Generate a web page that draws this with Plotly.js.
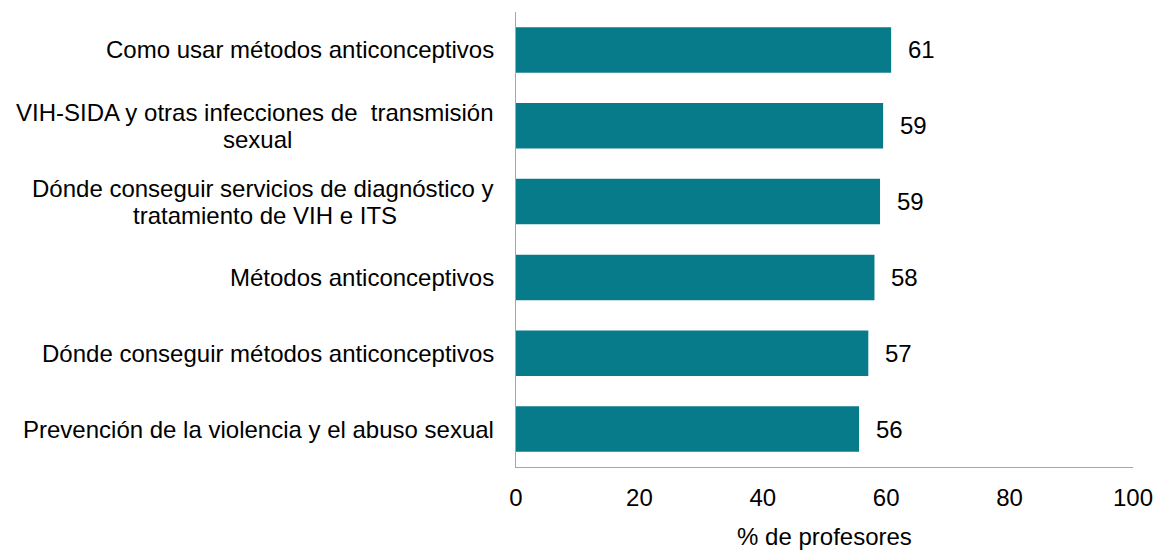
<!DOCTYPE html>
<html>
<head>
<meta charset="utf-8">
<script src="https://cdn.plot.ly/plotly-3.0.1.min.js"></script>
<style>html,body{margin:0;padding:0;background:#fff;}#chart{width:1156px;height:550px;}</style>
</head>
<body>
<div id="chart"></div>
<script>
// Categories, bottom to top
const categories = [
  "Prevención de la violencia y el abuso sexual",
  "Dónde conseguir métodos anticonceptivos",
  "Métodos anticonceptivos",
  "Dónde conseguir servicios de diagnóstico y<br>tratamiento de VIH e ITS",
  "VIH-SIDA y otras infecciones de  transmisión<br>sexual",
  "Como usar métodos anticonceptivos"
];
const values = [55.6, 57.1, 58.1, 59.0, 59.5, 60.8];
const valueLabels = ["56", "57", "58", "59", "59", "61"];
const xTickVals = [0, 20, 40, 60, 80, 100];
const xTitle = "% de profesores";

const FONT = "Liberation Sans, Arial, sans-serif";
const FS = 24;
const ids = categories.map((c, i) => "c" + i);

const trace = {
  type: "bar",
  orientation: "h",
  x: values,
  y: ids,
  marker: {color: "#087B8A"},
  width: 0.6,
  hoverinfo: "skip"
};

const annotations = [];
const LINE = 27;
ids.forEach((id, i) => {
  annotations.push({
    x: values[i], y: id, xref: "x", yref: "y",
    text: valueLabels[i], showarrow: false,
    xanchor: "left", xshift: 15,
    font: {family: FONT, size: FS, color: "#000"}
  });
  const lines = categories[i].split("<br>");
  lines.forEach((ln, k) => {
    annotations.push({
      x: 0, y: id, xref: "paper", yref: "y",
      text: ln.replace(/  /g, " \u00A0"), showarrow: false,
      xanchor: lines.length > 1 && k > 0 ? "center" : "right",
      xshift: lines.length > 1 && k > 0 ? 0 : -20,
      yshift: (lines.length - 1) * LINE / 2 - k * LINE,
      font: {family: FONT, size: FS, color: "#000"}
    });
  });
});

const layout = {
  width: 1156, height: 550,
  margin: {l: 516, r: 23, t: 12, b: 83},
  paper_bgcolor: "#fff", plot_bgcolor: "#fff",
  showlegend: false,
  font: {family: FONT, size: FS, color: "#000"},
  xaxis: {
    range: [0, 100], tickvals: xTickVals, ticktext: xTickVals.map(String),
    showgrid: false, zeroline: false,
    showline: true, linecolor: "#a6a6a6", linewidth: 1,
    ticks: "", ticklabelstandoff: 9,
    tickfont: {family: FONT, size: FS, color: "#000"},
    title: {text: xTitle, font: {family: FONT, size: FS, color: "#000"}, standoff: 21}
  },
  yaxis: {
    categoryorder: "array", categoryarray: ids,
    showticklabels: false, showgrid: false, zeroline: false,
    showline: true, linecolor: "#a6a6a6", linewidth: 1, ticks: ""
  },
  annotations: annotations
};

Plotly.newPlot("chart", [trace], layout, {displayModeBar: false, staticPlot: true}).then(gd => {
  // center continuation lines of wrapped labels under their first line
  const nodes = gd.querySelectorAll(".annotation");
  const updates = {};
  let idx = 0;
  ids.forEach((id, i) => {
    idx++; // value label
    const lines = categories[i].split("<br>");
    const firstIdx = idx;
    if (lines.length > 1) {
      const bb = nodes[firstIdx].querySelector(".annotation-text").getBBox();
      const center = -20 - bb.width / 2;
      for (let k = 1; k < lines.length; k++) {
        updates["annotations[" + (firstIdx + k) + "].xshift"] = center;
      }
    }
    idx += lines.length;
  });
  if (Object.keys(updates).length) Plotly.relayout(gd, updates);
});
</script>
</body>
</html>
